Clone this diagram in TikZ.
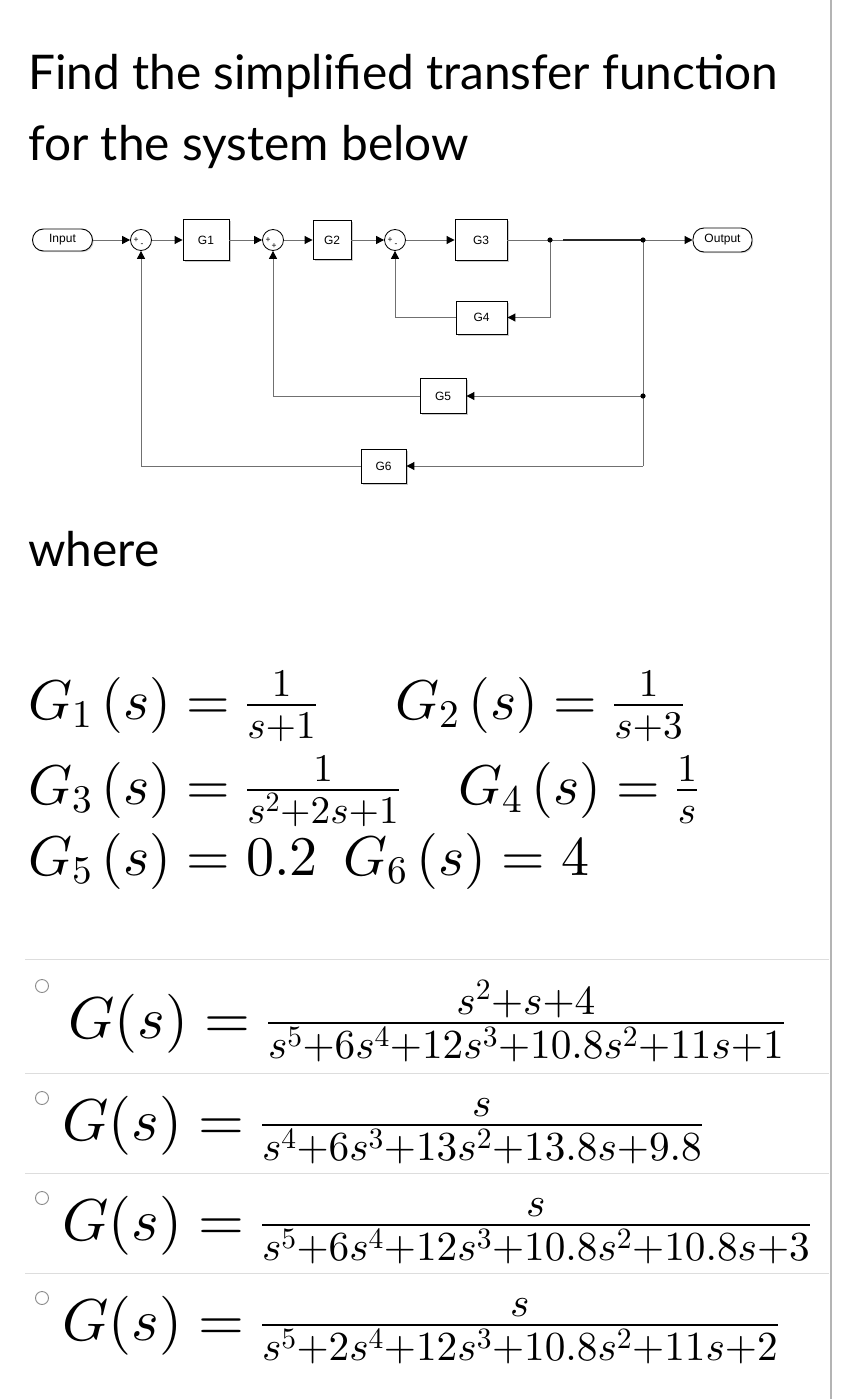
\documentclass[tikz,border=0pt]{standalone}
\usepackage{amsmath}
\usepackage[no-math]{fontspec}
\setmainfont{Lato}
\newfontfamily\diafont{Liberation Sans}
\DeclareFontShape{OT1}{cmr}{m}{n}{<->cmr10}{}
\DeclareFontShape{OML}{cmm}{m}{it}{<->cmmi10}{}
\DeclareFontShape{OMS}{cmsy}{m}{n}{<->cmsy10}{}
\DeclareFontShape{OMX}{cmex}{m}{n}{<->cmex10}{}
\usetikzlibrary{arrows.meta,shadows,calc}
\definecolor{wiregray}{HTML}{707070}
\definecolor{sepgray}{HTML}{DDDDDD}
\definecolor{bordergray}{HTML}{B4B4B4}
\definecolor{radiogray}{HTML}{8A8A8A}
\begin{document}
\begin{tikzpicture}[x=1pt,y=-1pt,
  wire/.style={draw=wiregray, line width=1pt},
  arr/.style={wire, -{Triangle[length=8pt,width=8pt,color=black,fill=black]}},
  blk/.style={draw=black, fill=white, line width=0.9pt, inner sep=0pt,
    font=\diafont\fontsize{12}{14}\selectfont,
    drop shadow={shadow xshift=1.5pt,shadow yshift=-1.5pt,fill=black!40}},
  term/.style={draw=black, fill=white, line width=0.9pt, inner sep=0pt,
    rounded corners=11pt, minimum width=60pt, minimum height=22pt,
    font=\diafont\fontsize{12}{14}\selectfont,
    drop shadow={shadow xshift=1.2pt,shadow yshift=-1.2pt,fill=black!30}},
  sumc/.style={circle, draw=black, fill=white, line width=0.8pt, minimum size=21pt, inner sep=0pt},
  sgn/.style={inner sep=0pt, font=\diafont\fontsize{8.5}{8.5}\selectfont},
  dotc/.style={fill=black},
  title/.style={anchor=base west, inner sep=0pt, font=\fontsize{47.8}{57}\selectfont},
  eqn/.style={anchor=base west, inner sep=0pt, font=\fontsize{56}{67}\selectfont},
  ans/.style={anchor=base west, inner sep=0pt, font=\fontsize{59}{70}\selectfont},
  sep/.style={draw=sepgray, line width=1pt},
  radio/.style={draw=radiogray, line width=0.9pt, fill=white}
]
% canvas
\path[fill=white] (0,0) rectangle (862,1399);
\useasboundingbox (0,0) rectangle (862,1399);
\draw[draw=bordergray, line width=1.5pt] (831,0) -- (831,1399);

% title
\node[title] (t1) at (28,90) {Find the simplified transfer function};
\node[title] (t2) at (28,161) {for the system below};
\node[title] (wh) at (28,566) {where};

% ---------- block diagram ----------
\node[term] (in) at (62.5,240) {Input};
\node[sumc] (s1) at (141,240) {};
\node[sumc] (s2) at (273,240) {};
\node[sumc] (s3) at (395,240) {};
\node[sgn] (s1a) at ($(s1)+(-5,0)$) {+};
\node[sgn] (s1b) at ($(s1)+(1,5)$) {-};
\node[sgn] (s2a) at ($(s2)+(-5,0)$) {+};
\node[sgn] (s2b) at ($(s2)+(1,6)$) {+};
\node[sgn] (s3a) at ($(s3)+(-5,0)$) {+};
\node[sgn] (s3b) at ($(s3)+(1,5)$) {-};

\node[blk, minimum width=46pt, minimum height=41pt] (g1) at (206,240) {G1};
\node[blk, minimum width=38pt, minimum height=39pt] (g2) at (332,240) {G2};
\node[blk, minimum width=52pt, minimum height=41pt] (g3) at (481,240) {G3};
\node[blk, minimum width=51pt, minimum height=33pt] (g4) at (481.5,317.5) {G4};
\node[blk, minimum width=46pt, minimum height=35pt] (g5) at (443,396) {G5};
\node[blk, minimum width=45pt, minimum height=34pt] (g6) at (383.5,466) {G6};
\node[term, minimum width=59pt, minimum height=24pt] (out) at (722.5,240) {Output};

\coordinate (d1) at (550,240);
\coordinate (d1b) at (563,240);
\coordinate (d2) at (643,240);
\coordinate (d3) at (643,396);
\coordinate (c6) at (643,466);

\draw[arr] (in) -- (s1);
\draw[arr] (s1) -- (g1);
\draw[arr] (g1) -- (s2);
\draw[arr] (s2) -- (g2);
\draw[arr] (g2) -- (s3);
\draw[arr] (s3) -- (g3);
\draw[wire] (g3) -- (d1);
\draw[wire] (d1) -- (d2);
\draw[draw=black!85, line width=1.6pt] (d1b) -- (d2);
\draw[arr] (d2) -- (out);
\draw[arr] (d1) |- (g4);
\draw[arr] (g4) -| (s3);
\draw[wire] (d2) -- (d3);
\draw[wire] (d3) -- (c6);
\draw[arr] (d3) -- (g5);
\draw[arr] (g5) -| (s2);
\draw[arr] (c6) -- (g6);
\draw[arr] (g6) -| (s1);
\fill[dotc] (d1) circle (2.6pt);
\fill[dotc] (d2) circle (2.6pt);
\fill[dotc] (d3) circle (2.6pt);

% ---------- given transfer functions ----------
\node[eqn] (e1) at (28,719) {$G_1\left(s\right) = \frac{1}{s+1}$};
\node[eqn] (e2) at (395,719) {$G_2\left(s\right) = \frac{1}{s+3}$};
\node[eqn] (e3) at (28,804) {$G_3\left(s\right) = \frac{1}{s^2+2s+1}$};
\node[eqn] (e4) at (458,804) {$G_4\left(s\right) = \frac{1}{s}$};
\node[eqn] (e5) at (28,875) {$G_5\left(s\right) = 0.2$};
\node[eqn] (e6) at (343,875) {$G_6\left(s\right) = 4$};

% ---------- answer choices ----------
\draw[sep] (25,959) -- (829,959);
\draw[sep] (25,1073) -- (829,1073);
\draw[sep] (25,1173) -- (829,1173);
\draw[sep] (25,1273) -- (829,1273);

\draw[radio] (42,986) circle (6.5pt);
\draw[radio] (42,1098) circle (6.5pt);
\draw[radio] (42,1198) circle (6.5pt);
\draw[radio] (42,1298) circle (6.5pt);

\node[ans] (a1) at (68,1038) {$G(s) = \frac{s^2+s+4}{s^5+6s^4+12s^3+10.8s^2+11s+1}$};
\node[ans] (a2) at (62,1140) {$G(s) = \frac{s}{s^4+6s^3+13s^2+13.8s+9.8}$};
\node[ans] (a3) at (62,1240) {$G(s) = \frac{s}{s^5+6s^4+12s^3+10.8s^2+10.8s+3}$};
\node[ans] (a4) at (62,1340) {$G(s) = \frac{s}{s^5+2s^4+12s^3+10.8s^2+11s+2}$};
\end{tikzpicture}
\end{document}
